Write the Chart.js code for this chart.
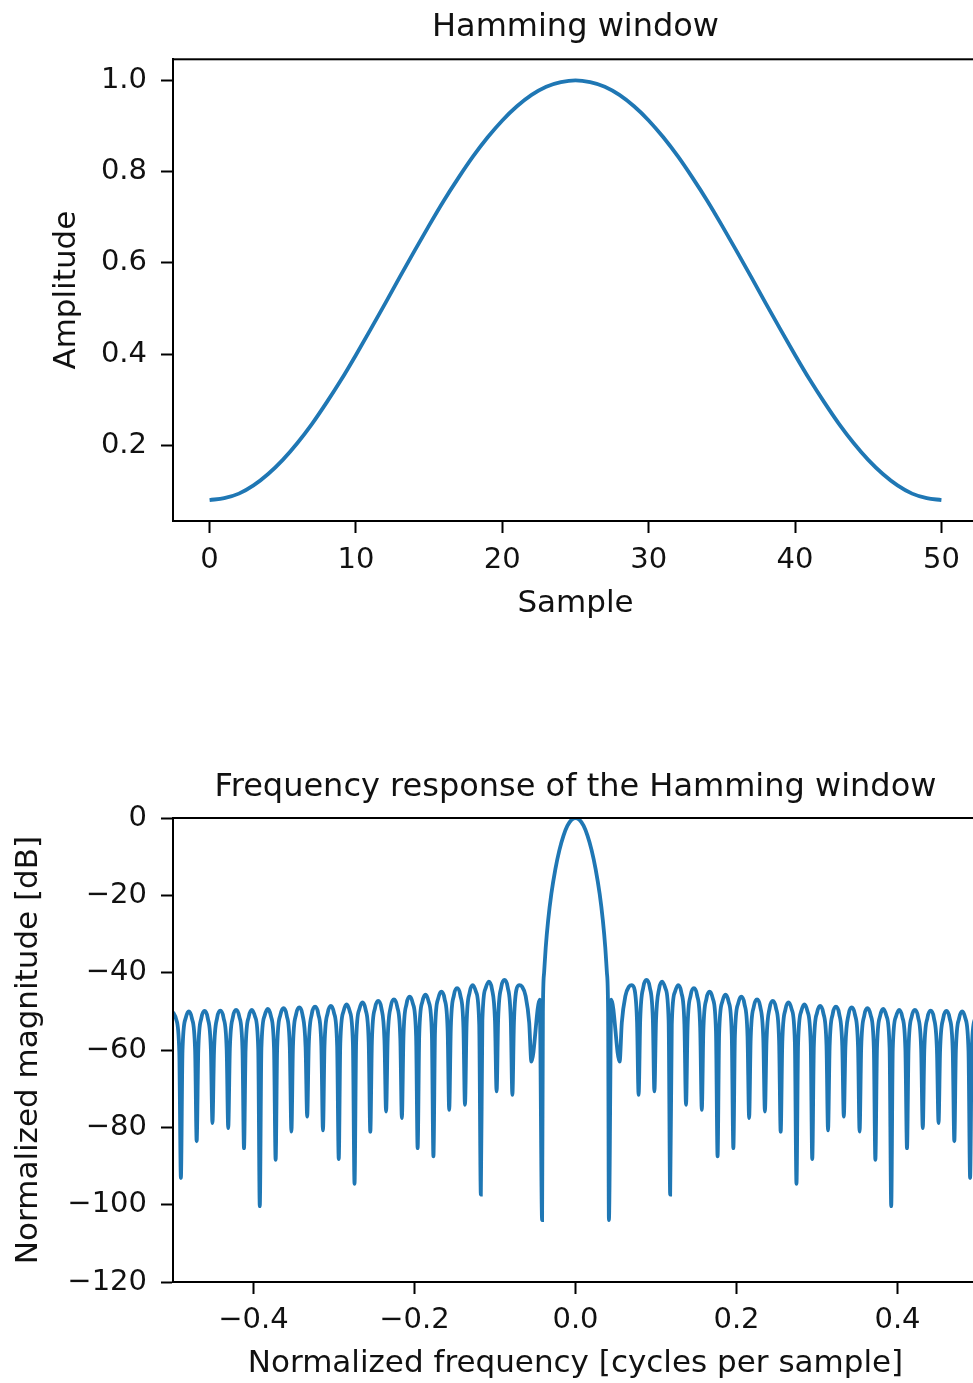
<!DOCTYPE html>
<html>
<head>
<meta charset="utf-8">
<script src="https://cdn.jsdelivr.net/npm/chart.js@4.4.1/dist/chart.umd.min.js"></script>
<style>
html,body{margin:0;padding:0;background:#fff;overflow:hidden;width:973px;height:1383px;}
canvas{position:absolute;left:0;}
#c1{top:0;}
#c2{top:760px;}
</style>
</head>
<body>
<canvas id="c1" width="1000" height="624"></canvas>
<canvas id="c2" width="1000" height="624"></canvas>
<script>
// ---- Top chart: Hamming window (51 samples) ----
const samples = [0,1,2,3,4,5,6,7,8,9,10,11,12,13,14,15,16,17,18,19,20,21,22,23,24,25,
  26,27,28,29,30,31,32,33,34,35,36,37,38,39,40,41,42,43,44,45,46,47,48,49,50];
const amplitude = [0.080,0.084,0.094,0.112,0.137,0.168,0.205,0.247,0.294,0.344,0.398,0.454,0.511,
  0.569,0.626,0.682,0.736,0.786,0.833,0.875,0.912,0.943,0.968,0.986,0.996,1.000,
  0.996,0.986,0.968,0.943,0.912,0.875,0.833,0.786,0.736,0.682,0.626,0.569,0.511,0.454,
  0.398,0.344,0.294,0.247,0.205,0.168,0.137,0.112,0.094,0.084,0.080];
const sampleTicks = [0,10,20,30,40,50];
const amplitudeTicks = [0.2,0.4,0.6,0.8,1.0];

// ---- Bottom chart: frequency response (dB) ----
const freq = [
  -0.5000,-0.4961,-0.4922,
  -0.4902,-0.4882,-0.4843,-0.4804,-0.4765,-0.4725,
  -0.4706,-0.4686,-0.4647,-0.4608,-0.4569,-0.4529,
  -0.4510,-0.4490,-0.4451,-0.4412,-0.4373,-0.4333,
  -0.4314,-0.4294,-0.4255,-0.4216,-0.4176,-0.4137,
  -0.4118,-0.4098,-0.4059,-0.4020,-0.3980,-0.3941,
  -0.3922,-0.3902,-0.3863,-0.3824,-0.3784,-0.3745,
  -0.3725,-0.3706,-0.3667,-0.3627,-0.3588,-0.3549,
  -0.3529,-0.3510,-0.3471,-0.3431,-0.3392,-0.3353,
  -0.3333,-0.3314,-0.3275,-0.3235,-0.3196,-0.3157,
  -0.3137,-0.3118,-0.3078,-0.3039,-0.3000,-0.2961,
  -0.2941,-0.2922,-0.2882,-0.2843,-0.2804,-0.2765,
  -0.2745,-0.2725,-0.2686,-0.2647,-0.2608,-0.2569,
  -0.2549,-0.2529,-0.2490,-0.2451,-0.2412,-0.2373,
  -0.2353,-0.2333,-0.2294,-0.2255,-0.2216,-0.2176,
  -0.2157,-0.2137,-0.2098,-0.2059,-0.2020,-0.1980,
  -0.1961,-0.1941,-0.1902,-0.1863,-0.1824,-0.1784,
  -0.1765,-0.1745,-0.1706,-0.1667,-0.1627,-0.1588,
  -0.1569,-0.1549,-0.1510,-0.1471,-0.1431,-0.1392,
  -0.1373,-0.1353,-0.1314,-0.1275,-0.1235,-0.1196,
  -0.1176,-0.1157,-0.1118,-0.1078,-0.1039,-0.1000,
  -0.0980,-0.0961,-0.0922,-0.0882,-0.0843,-0.0804,
  -0.0784,-0.0765,-0.0735,-0.0700,-0.0665,-0.0620,-0.0575,
  -0.0548,-0.0445,-0.0415,
  -0.0405,-0.0390,-0.0370,-0.0340,-0.0300,-0.0250,-0.0200,-0.0150,-0.0100,-0.0050,
  0.0000,
  0.0050,0.0100,0.0150,0.0200,0.0250,0.0300,0.0340,0.0370,0.0390,0.0405,
  0.0415,0.0445,0.0548,
  0.0575,0.0620,0.0665,0.0700,0.0735,0.0765,0.0784,
  0.0804,0.0843,0.0882,0.0922,0.0961,0.0980,
  0.1000,0.1039,0.1078,0.1118,0.1157,0.1176,
  0.1196,0.1235,0.1275,0.1314,0.1353,0.1373,
  0.1392,0.1431,0.1471,0.1510,0.1549,0.1569,
  0.1588,0.1627,0.1667,0.1706,0.1745,0.1765,
  0.1784,0.1824,0.1863,0.1902,0.1941,0.1961,
  0.1980,0.2020,0.2059,0.2098,0.2137,0.2157,
  0.2176,0.2216,0.2255,0.2294,0.2333,0.2353,
  0.2373,0.2412,0.2451,0.2490,0.2529,0.2549,
  0.2569,0.2608,0.2647,0.2686,0.2725,0.2745,
  0.2765,0.2804,0.2843,0.2882,0.2922,0.2941,
  0.2961,0.3000,0.3039,0.3078,0.3118,0.3137,
  0.3157,0.3196,0.3235,0.3275,0.3314,0.3333,
  0.3353,0.3392,0.3431,0.3471,0.3510,0.3529,
  0.3549,0.3588,0.3627,0.3667,0.3706,0.3725,
  0.3745,0.3784,0.3824,0.3863,0.3902,0.3922,
  0.3941,0.3980,0.4020,0.4059,0.4098,0.4118,
  0.4137,0.4176,0.4216,0.4255,0.4294,0.4314,
  0.4333,0.4373,0.4412,0.4451,0.4490,0.4510,
  0.4529,0.4569,0.4608,0.4647,0.4686,0.4706,
  0.4725,0.4765,0.4804,0.4843,0.4882,0.4902,
  0.4922,0.4961,0.5000
];
const magnitudeDb = [
  -50.2,-52.0,-60.4,
  -93.1,-60.2,-51.8,-50.0,-51.8,-60.2,
  -83.6,-60.1,-51.7,-49.9,-51.7,-60.1,
  -78.9,-60.0,-51.6,-49.8,-51.6,-60.0,
  -80.2,-59.8,-51.4,-49.6,-51.4,-59.8,
  -85.4,-59.8,-51.4,-49.6,-51.4,-59.8,
  -100.4,-59.6,-51.2,-49.4,-51.2,-59.6,
  -88.4,-59.4,-51.0,-49.2,-51.0,-59.4,
  -81.1,-59.2,-50.8,-49.0,-50.8,-59.2,
  -77.2,-59.0,-50.6,-48.8,-50.6,-59.0,
  -80.8,-58.8,-50.4,-48.6,-50.4,-58.8,
  -88.2,-58.4,-50.0,-48.2,-50.0,-58.4,
  -94.6,-57.9,-49.5,-47.7,-49.5,-57.9,
  -81.2,-57.5,-49.1,-47.3,-49.1,-57.5,
  -75.9,-57.1,-48.7,-46.9,-48.7,-57.1,
  -77.6,-56.4,-48.0,-46.2,-48.0,-56.4,
  -85.4,-55.9,-47.5,-45.7,-47.5,-55.9,
  -87.5,-55.1,-46.7,-44.9,-46.7,-55.1,
  -75.5,-54.2,-45.8,-44.0,-45.8,-54.2,
  -74.2,-53.4,-45.0,-43.2,-45.0,-53.4,
  -97.4,-52.5,-44.1,-42.3,-44.1,-52.5,
  -70.7,-52.1,-43.7,-41.9,-43.7,-52.1,
  -71.6,-53.0,-44.5,-43.2,-43.6,-46.0,-53.0,
  -63.0,-47.0,-104.0,
  -50.0,-40.0,-33.5,-26.5,-19.6,-13.2,-8.3,-4.6,-2.0,-0.5,
  0.0,
  -0.5,-2.0,-4.6,-8.3,-13.2,-19.6,-26.5,-33.5,-40.0,-50.0,
  -104.0,-47.0,-63.0,
  -53.0,-46.0,-43.6,-43.2,-44.5,-53.0,-71.6,
  -52.1,-43.7,-41.9,-43.7,-52.1,-70.7,
  -52.5,-44.1,-42.3,-44.1,-52.5,-97.4,
  -53.4,-45.0,-43.2,-45.0,-53.4,-74.2,
  -54.2,-45.8,-44.0,-45.8,-54.2,-75.5,
  -55.1,-46.7,-44.9,-46.7,-55.1,-87.5,
  -55.9,-47.5,-45.7,-47.5,-55.9,-85.4,
  -56.4,-48.0,-46.2,-48.0,-56.4,-77.6,
  -57.1,-48.7,-46.9,-48.7,-57.1,-75.9,
  -57.5,-49.1,-47.3,-49.1,-57.5,-81.2,
  -57.9,-49.5,-47.7,-49.5,-57.9,-94.6,
  -58.4,-50.0,-48.2,-50.0,-58.4,-88.2,
  -58.8,-50.4,-48.6,-50.4,-58.8,-80.8,
  -59.0,-50.6,-48.8,-50.6,-59.0,-77.2,
  -59.2,-50.8,-49.0,-50.8,-59.2,-81.1,
  -59.4,-51.0,-49.2,-51.0,-59.4,-88.4,
  -59.6,-51.2,-49.4,-51.2,-59.6,-100.4,
  -59.8,-51.4,-49.6,-51.4,-59.8,-85.4,
  -59.8,-51.4,-49.6,-51.4,-59.8,-80.2,
  -60.0,-51.6,-49.8,-51.6,-60.0,-78.9,
  -60.1,-51.7,-49.9,-51.7,-60.1,-83.6,
  -60.2,-51.8,-50.0,-51.8,-60.2,-93.1,
  -60.4,-52.0,-50.2
];
const freqTicks = [-0.4,-0.2,0.0,0.2,0.4];
const dbTicks = [-120,-100,-80,-60,-40,-20,0];

// ---- styling ----
const LINE = '#1f77b4';
const TXT = '#111111';
Chart.defaults.font.family = "'DejaVu Sans', sans-serif";
Chart.defaults.color = TXT;

// frame (all four spines) + title centred over the plot area
const frame = {
  id: 'frame',
  afterDraw(chart, args, opts) {
    const a = chart.chartArea, c = chart.ctx;
    c.save();
    c.strokeStyle = '#000';
    c.lineWidth = 2;
    c.strokeRect(a.left, a.top, a.right - a.left, a.bottom - a.top);
    const t = chart.options.plugins.title;
    c.fillStyle = TXT;
    c.font = "normal 32px 'DejaVu Sans', sans-serif";
    c.textAlign = 'center';
    c.textBaseline = 'middle';
    c.fillText(t.text, (a.left + a.right) / 2, opts.titleY);
    c.restore();
  }
};

function minusFmt(v, dec) {
  if (Math.abs(v) < 1e-9) v = 0;
  const s = Math.abs(v).toFixed(dec);
  return (v < 0 ? '\u2212' : '') + s;
}

function axisCommon(tickVals, dec) {
  return {
    type: 'linear',
    grid: { display: true, drawOnChartArea: false, drawTicks: true, tickLength: 12, tickWidth: 2, tickColor: '#000', color: '#000' },
    border: { display: true, color: '#000', width: 2 },
    afterBuildTicks: (s) => { s.ticks = tickVals.map(v => ({ value: v })); },
    ticks: { font: { size: 29 }, color: TXT, autoSkip: false, maxRotation: 0, callback: (v) => minusFmt(v, dec) }
  };
}

function makeChart(id, cfg) {
  const xa = axisCommon(cfg.xTicks, cfg.xDec);
  xa.min = cfg.xMin; xa.max = cfg.xMax;
  xa.ticks.padding = cfg.xTickPad;
  xa.title = { display: true, text: cfg.xLabel, font: { size: 31 }, color: TXT, padding: { top: 0, bottom: 1 } };
  xa.afterFit = (s) => { s.height = cfg.xAxisH; };
  const ya = axisCommon(cfg.yTicks, cfg.yDec);
  ya.min = cfg.yMin; ya.max = cfg.yMax;
  ya.ticks.padding = 14;
  ya.title = { display: true, text: cfg.yLabel, font: { size: 31 }, color: TXT, padding: { top: 0, bottom: 0 } };
  ya.afterFit = (s) => { s.width = cfg.yAxisW; };
  return new Chart(document.getElementById(id), {
    type: 'line',
    data: { datasets: [{ data: cfg.data, borderColor: LINE, borderWidth: 3.8, pointRadius: 0, fill: false, cubicInterpolationMode: 'monotone' }] },
    options: {
      responsive: false, animation: false, devicePixelRatio: 1,
      layout: { padding: { left: cfg.padLeft, right: 22, top: cfg.padTop, bottom: 0 } },
      plugins: {
        legend: { display: false }, tooltip: { enabled: false },
        title: { display: false, text: cfg.title },
        frame: { titleY: cfg.titleY }
      },
      scales: { x: xa, y: ya }
    },
    plugins: [frame]
  });
}

makeChart('c1', {
  title: 'Hamming window', titleY: 27.5, padTop: 59.3,
  data: samples.map((s, i) => ({ x: s, y: amplitude[i] })),
  xMin: -2.5, xMax: 52.5, xTicks: sampleTicks, xDec: 0, xLabel: 'Sample', xAxisH: 103, xTickPad: 10,
  yMin: 0.034, yMax: 1.046, yTicks: amplitudeTicks, yDec: 1, yLabel: 'Amplitude', yAxisW: 125, padLeft: 48
});

makeChart('c2', {
  title: 'Frequency response of the Hamming window', titleY: 27.5, padTop: 58,
  data: freq.map((f, i) => ({ x: f, y: magnitudeDb[i] })),
  xMin: -0.5, xMax: 0.5, xTicks: freqTicks, xDec: 1, xLabel: 'Normalized frequency [cycles per sample]', xAxisH: 102, xTickPad: 9,
  yMin: -120, yMax: 0, yTicks: dbTicks, yDec: 0, yLabel: 'Normalized magnitude [dB]', yAxisW: 163, padLeft: 10
});
</script>
</body>
</html>
